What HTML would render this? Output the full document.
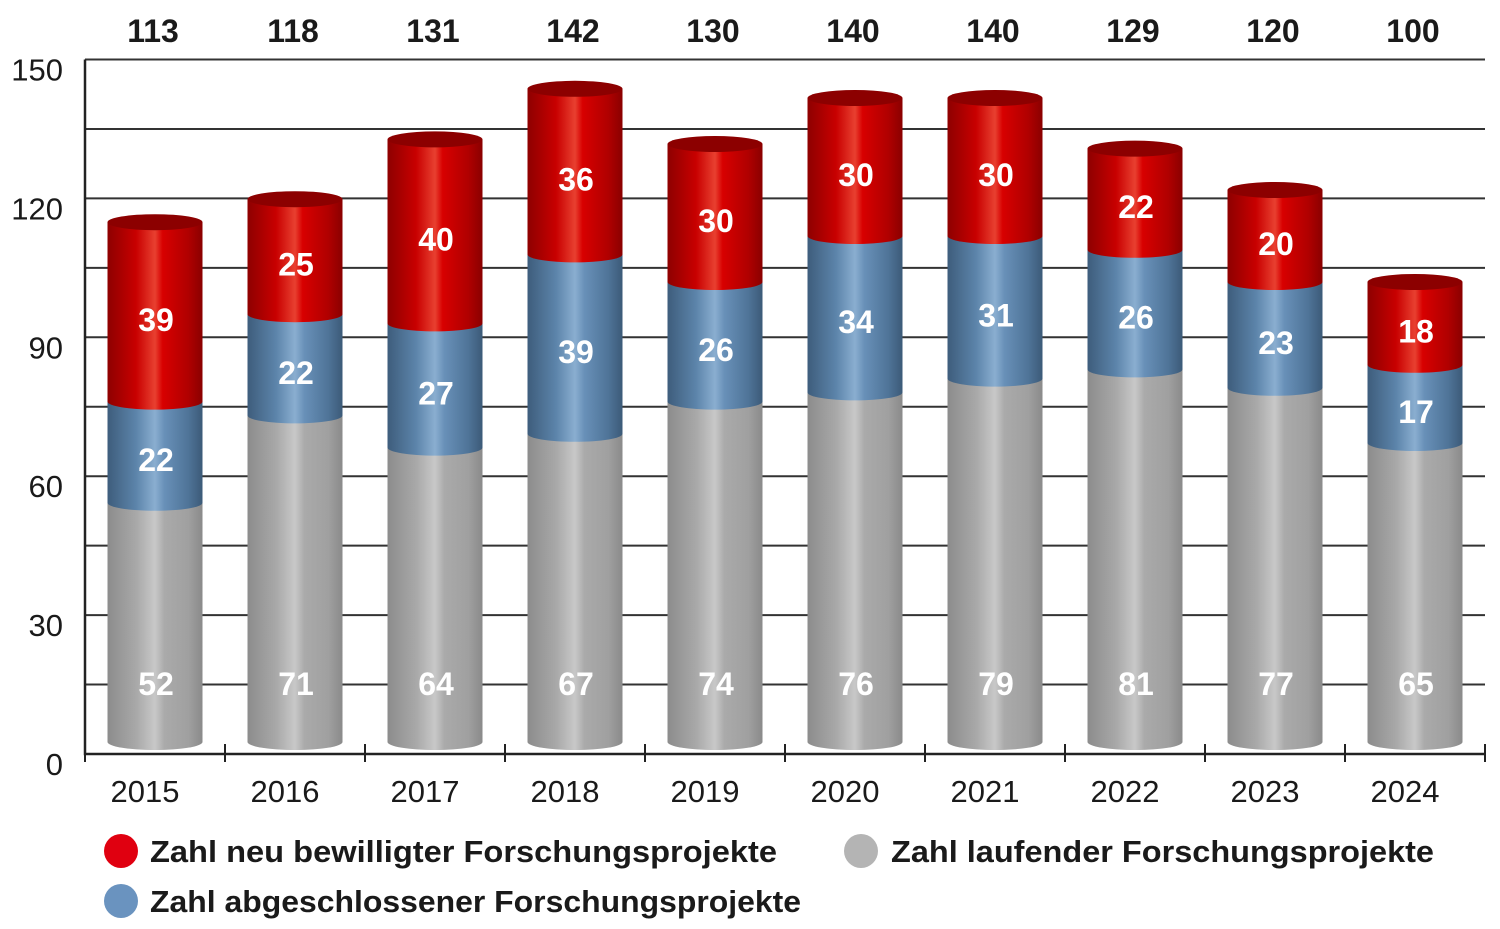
<!DOCTYPE html>
<html><head><meta charset="utf-8"><style>
body{margin:0;background:#fff;}
svg{display:block;font-family:"Liberation Sans",sans-serif;}
</style></head><body>
<svg id="chart" width="1500" height="929" viewBox="0 0 1500 929">
<defs>
<linearGradient id="gRed" x1="0" x2="1" y1="0" y2="0">
<stop offset="0" stop-color="#8e0000"/><stop offset="0.3" stop-color="#c80000"/><stop offset="0.5" stop-color="#e84030"/><stop offset="0.58" stop-color="#d80000"/><stop offset="0.85" stop-color="#b00000"/><stop offset="1" stop-color="#8a0000"/></linearGradient>
<linearGradient id="gBlue" x1="0" x2="1" y1="0" y2="0">
<stop offset="0" stop-color="#3e5d7c"/><stop offset="0.3" stop-color="#5c84aa"/><stop offset="0.5" stop-color="#8aaed0"/><stop offset="0.6" stop-color="#6890b8"/><stop offset="0.85" stop-color="#4f7498"/><stop offset="1" stop-color="#3c5a78"/></linearGradient>
<linearGradient id="gGray" x1="0" x2="1" y1="0" y2="0">
<stop offset="0" stop-color="#8c8c8c"/><stop offset="0.3" stop-color="#a8a8a8"/><stop offset="0.5" stop-color="#c8c8c8"/><stop offset="0.6" stop-color="#aaaaaa"/><stop offset="0.85" stop-color="#a0a0a0"/><stop offset="1" stop-color="#8a8a8a"/></linearGradient>
</defs>
<g id="grid"></g><g id="bars"></g><g id="labels"></g>
<g font-size="31" font-weight="bold" fill="#1a1a1a">
<circle cx="121" cy="851" r="17" fill="#e00010"/>
<text x="150" y="862" textLength="627" lengthAdjust="spacingAndGlyphs">Zahl neu bewilligter Forschungsprojekte</text>
<circle cx="861" cy="851" r="17" fill="#b4b4b4"/>
<text x="891" y="862" textLength="543" lengthAdjust="spacingAndGlyphs">Zahl laufender Forschungsprojekte</text>
<circle cx="121" cy="901" r="17" fill="#6a93bf"/>
<text x="150" y="912" textLength="651" lengthAdjust="spacingAndGlyphs">Zahl abgeschlossener Forschungsprojekte</text>
</g>
</svg>
<script>
const years=["2015","2016","2017","2018","2019","2020","2021","2022","2023","2024"];
const running=[52,71,64,67,74,76,79,81,77,65];
const completed=[22,22,27,39,26,34,31,26,23,17];
const newly=[39,25,40,36,30,30,30,22,20,18];
const totals=[113,118,131,142,130,140,140,129,120,100];
const yTicks=[0,30,60,90,120,150];
const NS="http://www.w3.org/2000/svg";
const x0=85,x1=1485,catW=(x1-x0)/years.length;
const axisY=v=>754-v*4.63;
const barY=v=>742-v*4.6;
function mk(tag,attrs,parent){const e=document.createElementNS(NS,tag);for(const k in attrs)e.setAttribute(k,attrs[k]);parent.appendChild(e);return e;}
const grid=document.getElementById('grid'),bars=document.getElementById('bars'),labels=document.getElementById('labels');
for(let v=15;v<=150;v+=15){const l=mk('line',{x1:x0,x2:x1,y1:axisY(v),y2:axisY(v),stroke:'#333','stroke-width':2},grid);

}
const ax=mk('path',{d:`M${x0} ${axisY(150)}V${axisY(0)}H${x1}`,stroke:'#222','stroke-width':2.5,fill:'none'},grid);


for(let i=0;i<=years.length;i++){const t=mk('line',{x1:x0+i*catW,x2:x0+i*catW,y1:axisY(0)-10,y2:axisY(0)+8,stroke:'#222','stroke-width':2},grid);

}
yTicks.forEach(v=>{const t=mk('text',{x:63,y:axisY(v)+21,'text-anchor':'end','font-size':31,fill:'#1a1a1a'},labels);t.textContent=v;

});
const series=[[running,'gGray','running'],[completed,'gBlue','completed'],[newly,'gRed','new']];
years.forEach((yr,i)=>{
 const cx=x0+catW*(i+0.5),w=95,rx=w/2,ry=8,left=cx-rx;
 let base=0;
 const g=mk('g',{},bars);
 
 
 series.forEach(([arr,grad,nm],si)=>{
  const v=arr[i],yb=barY(base),yt=barY(base+v);
  const p=mk('path',{d:`M${left} ${yt}V${yb}A${rx} ${ry} 0 0 0 ${left+w} ${yb}V${yt}Z`,fill:`url(#${grad})`},g);
  
  
  base+=v;
 });
 const top=barY(base);
 const cap=mk('ellipse',{cx:cx,cy:top,rx:rx,ry:ry,fill:'#8c0000'},g);
 
 
 let b2=0;
 series.forEach(([arr,grad,nm],si)=>{
  const v=arr[i];
  const ly=si===0?barY(0)-58:(barY(b2)+barY(b2+v))/2+8;
  const t=mk('text',{x:cx+1,y:ly+11,'text-anchor':'middle','font-size':32,'font-weight':'bold',fill:'#fff'},labels);
  t.textContent=v;
  
  
  b2+=v;
 });
 const tt=mk('text',{x:cx-2,y:42,'text-anchor':'middle','font-size':32,'font-weight':'bold',fill:'#1a1a1a'},labels);
 tt.textContent=totals[i];
 
 
 const xl=mk('text',{x:cx-10,y:802,'text-anchor':'middle','font-size':31,fill:'#1a1a1a'},labels);
 xl.textContent=yr;
 
 
});
</script>
</body></html>
